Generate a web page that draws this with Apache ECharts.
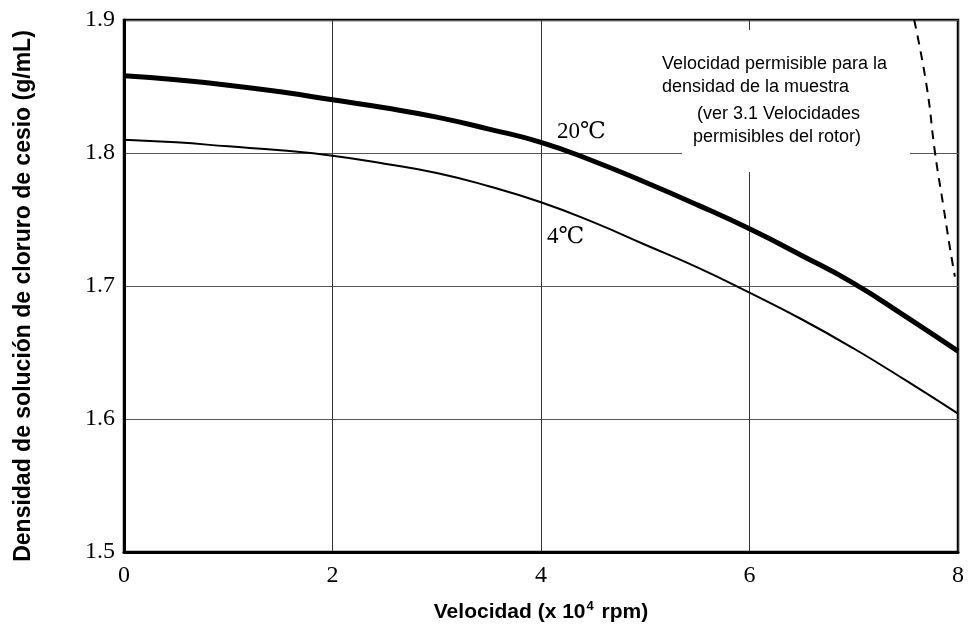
<!DOCTYPE html>
<html>
<head>
<meta charset="utf-8">
<script src="https://cdn.jsdelivr.net/npm/echarts@6/dist/echarts.min.js"></script>
<style>html,body{margin:0;padding:0;background:#fff}#c{width:968px;height:639px}</style>
</head>
<body>
<div id="c"></div>
<script>
// Data
const speed = [0, 0.5, 1, 1.5, 2, 2.5, 3, 3.5, 4, 4.5, 5, 5.5, 6, 6.5, 7, 7.5, 8];
const dens20 = [1.858, 1.855, 1.851, 1.846, 1.840, 1.834, 1.827, 1.818, 1.808, 1.794, 1.778, 1.761, 1.743, 1.723, 1.702, 1.677, 1.651];
const dens4  = [1.810, 1.808, 1.805, 1.802, 1.798, 1.792, 1.785, 1.775, 1.763, 1.748, 1.731, 1.714, 1.695, 1.675, 1.653, 1.629, 1.604];
const limitSpeed = [7.58, 7.70, 7.78, 7.86, 7.92, 7.97];
const limitDens  = [1.900, 1.850, 1.800, 1.760, 1.730, 1.707];
const xTicks = [0, 2, 4, 6, 8];
const yTicks = [1.5, 1.6, 1.7, 1.8, 1.9];
const yName = 'Densidad de solución de cloruro de cesio (g/mL)';
const noteLines = ['Velocidad permisible para la', 'densidad de la muestra', '(ver 3.1 Velocidades', 'permisibles del rotor)'];
const label20 = '20℃';
const label4 = '4℃';

const pairs = (xs, ys) => xs.map((x, i) => [x, ys[i]]);
const serif = '"Liberation Serif", "DejaVu Serif", serif';
const sans = '"Liberation Sans", Arial, sans-serif';

const chart = echarts.init(document.getElementById('c'));
chart.setOption({
  backgroundColor: '#fff',
  animation: false,
  grid: { left: 124, right: 10, top: 20, bottom: 87, show: true, borderColor: '#000', borderWidth: 2.5 },
  xAxis: {
    type: 'value', min: 0, max: 8, interval: 2,
    axisLine: { show: true, lineStyle: { color: '#000', width: 3 } },
    axisTick: { show: false },
    axisLabel: { color: '#000', fontFamily: serif, fontSize: 24, margin: 12 },
    splitLine: { show: true, lineStyle: { color: '#333', width: 1 } },
    name: '{a|Velocidad (x 10}{s|4}{a| rpm)}',
    nameLocation: 'middle', nameGap: 48,
    nameTextStyle: { rich: {
      a: { fontFamily: sans, fontWeight: 'bold', fontSize: 21, color: '#000' },
      s: { fontFamily: sans, fontWeight: 'bold', fontSize: 13, color: '#000', verticalAlign: 'top', padding: [0, 2, 12, 1] }
    } }
  },
  yAxis: {
    type: 'value', min: 1.5, max: 1.9, interval: 0.1,
    axisLine: { show: true, lineStyle: { color: '#000', width: 3 } },
    axisTick: { show: false },
    axisLabel: { color: '#000', fontFamily: serif, fontSize: 24, margin: 9, formatter: v => v.toFixed(1) },
    splitLine: { show: true, lineStyle: { color: '#555', width: 1 } }
  },
  series: [
    { type: 'line', name: '20', data: pairs(speed, dens20), smooth: true, symbol: 'none',
      lineStyle: { color: '#000', width: 5 }, z: 5 },
    { type: 'line', name: '4', data: pairs(speed, dens4), smooth: true, symbol: 'none',
      lineStyle: { color: '#000', width: 2 }, z: 5 },
    { type: 'line', name: 'limit', data: pairs(limitSpeed, limitDens), smooth: true, symbol: 'none',
      lineStyle: { color: '#000', width: 2, type: [9, 7] }, z: 6 }
  ],
  graphic: [
    { type: 'text', x: 24, y: 296, rotation: Math.PI / 2,
      style: { text: yName, font: 'bold 23px ' + sans, fill: '#000', align: 'center', verticalAlign: 'middle' } },
    { type: 'rect', shape: { x: 682, y: 30, width: 228, height: 142 }, style: { fill: '#fff' }, z: 3 },
    { type: 'text', x: 662, y: 55, style: { text: noteLines[0], font: '18px ' + sans, fill: '#000' }, z: 4 },
    { type: 'text', x: 662, y: 78, style: { text: noteLines[1], font: '18px ' + sans, fill: '#000' }, z: 4 },
    { type: 'text', x: 697, y: 105, style: { text: noteLines[2], font: '18px ' + sans, fill: '#000' }, z: 4 },
    { type: 'text', x: 693, y: 128, style: { text: noteLines[3], font: '18px ' + sans, fill: '#000' }, z: 4 },
    { type: 'text', x: 557, y: 120, style: { text: label20, font: '23px ' + serif, fill: '#000' }, z: 4 },
    { type: 'text', x: 547, y: 225, style: { text: label4, font: '23px ' + serif, fill: '#000' }, z: 4 }
  ]
});
</script>
</body>
</html>
